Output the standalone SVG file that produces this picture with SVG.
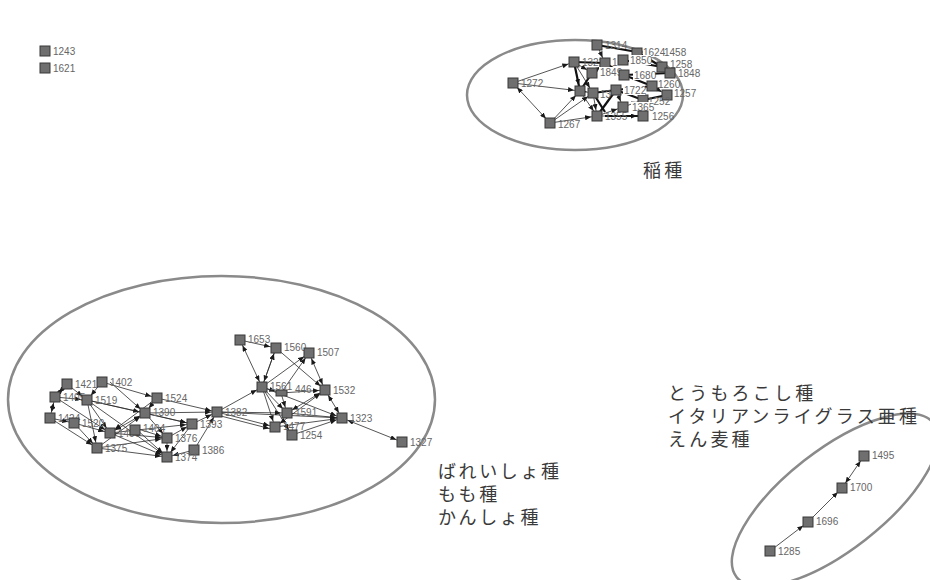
<svg xmlns="http://www.w3.org/2000/svg" width="930" height="580" viewBox="0 0 930 580">
<style>
.n{fill:#6f6f6f;stroke:#383838;stroke-width:1}
.l{font-family:"Liberation Sans",Arial,sans-serif;font-size:10px;fill:#666}
.w{fill:#fff}
.e{stroke:#2a2a2a;stroke-width:0.8;fill:none;marker-end:url(#a)}
.b{marker-start:url(#a)}
.t{stroke:#111;stroke-width:2.2;fill:none}
.c{stroke:#8a8a8a;stroke-width:2.5;fill:none}
.j{font-family:"Noto Sans CJK JP",sans-serif;font-size:18px;fill:#3a3a3a;letter-spacing:3.2px}
</style>
<defs>
<marker id="a" viewBox="0 0 6 5" refX="12" refY="2.5" markerWidth="6" markerHeight="5" markerUnits="userSpaceOnUse" orient="auto-start-reverse"><path d="M0,0 L6,2.5 L0,5 z" fill="#1a1a1a"/></marker>
</defs>
<rect width="930" height="580" fill="#fff"/>
<g id="groups">
<ellipse class="c" cx="575" cy="95" rx="108" ry="55"/>
<ellipse class="c" cx="221.5" cy="399.5" rx="213.5" ry="123.5"/>
<ellipse class="c" cx="835" cy="500" rx="125" ry="50" transform="rotate(-38 835 500)"/>
<text class="j" x="643" y="177">稲種</text>
<text class="j" x="668" y="400">とうもろこし種</text>
<text class="j" x="668" y="423">イタリアンライグラス亜種</text>
<text class="j" x="668" y="446">えん麦種</text>
<text class="j" x="438" y="478" style="letter-spacing:2.6px">ばれいしょ種</text>
<text class="j" x="438" y="501" style="letter-spacing:2.6px">もも種</text>
<text class="j" x="438" y="524" style="letter-spacing:2.6px">かんしょ種</text>
</g>
<g id="connectors">
<line class="e" x1="513" y1="83" x2="574" y2="62"/>
<line class="e" x1="513" y1="83" x2="580" y2="91"/>
<line class="e b" x1="513" y1="83" x2="550" y2="123"/>
<line class="e" x1="550" y1="123" x2="580" y2="91"/>
<line class="e" x1="550" y1="123" x2="593" y2="93"/>
<line class="e" x1="550" y1="123" x2="597" y2="116"/>
<line class="e" x1="574" y1="62" x2="592" y2="73"/>
<line class="e" x1="574" y1="62" x2="580" y2="91"/>
<line class="e" x1="574" y1="62" x2="593" y2="93"/>
<line class="e" x1="580" y1="91" x2="597" y2="116"/>
<line class="e" x1="593" y1="93" x2="597" y2="116"/>
<line class="e" x1="580" y1="91" x2="593" y2="93"/>
<line class="e" x1="597" y1="45" x2="605" y2="63"/>
<line class="e" x1="597" y1="116" x2="623" y2="107"/>
<line class="e" x1="597" y1="116" x2="643" y2="116"/>
<line class="e" x1="592" y1="73" x2="605" y2="63"/>
<line class="e" x1="623" y1="107" x2="643" y2="100"/>
<line class="e" x1="652" y1="86" x2="667" y2="95"/>
<line class="e" x1="670" y1="73" x2="662" y2="67"/>
<line class="e" x1="616" y1="90" x2="623" y2="107"/>
<line class="t" x1="597" y1="45" x2="637" y2="52"/>
<line class="t" x1="574" y1="62" x2="605" y2="63"/>
<line class="t" x1="605" y1="63" x2="624" y2="75"/>
<line class="t" x1="623" y1="60" x2="662" y2="67"/>
<line class="t" x1="624" y1="75" x2="652" y2="86"/>
<line class="t" x1="593" y1="93" x2="616" y2="90"/>
<line class="t" x1="616" y1="90" x2="652" y2="86"/>
<line class="t" x1="616" y1="90" x2="643" y2="100"/>
<line class="t" x1="597" y1="116" x2="616" y2="90"/>
<line class="t" x1="643" y1="100" x2="667" y2="95"/>
<line class="t" x1="580" y1="91" x2="592" y2="73"/>
<line class="t" x1="593" y1="93" x2="605" y2="112"/>
<line class="t" x1="624" y1="75" x2="670" y2="73"/>
<line class="t" x1="637" y1="52" x2="662" y2="67"/>
<line class="t" x1="574" y1="62" x2="580" y2="91"/>
<line class="t" x1="605" y1="116" x2="643" y2="116"/>
<line class="e b" x1="67" y1="384" x2="55" y2="397"/>
<line class="e" x1="67" y1="384" x2="87" y2="400"/>
<line class="e" x1="102" y1="382" x2="157" y2="398"/>
<line class="e" x1="102" y1="382" x2="87" y2="400"/>
<line class="e b" x1="55" y1="397" x2="50" y2="418"/>
<line class="e" x1="55" y1="397" x2="87" y2="400"/>
<line class="e" x1="55" y1="397" x2="110" y2="433"/>
<line class="e" x1="50" y1="418" x2="97" y2="448"/>
<line class="e" x1="50" y1="418" x2="74" y2="423"/>
<line class="e" x1="87" y1="400" x2="110" y2="433"/>
<line class="e" x1="87" y1="400" x2="97" y2="448"/>
<line class="e" x1="87" y1="400" x2="145" y2="413"/>
<line class="e" x1="87" y1="400" x2="192" y2="424"/>
<line class="e" x1="74" y1="423" x2="97" y2="448"/>
<line class="e" x1="74" y1="423" x2="110" y2="433"/>
<line class="e" x1="157" y1="398" x2="217" y2="412"/>
<line class="e" x1="157" y1="398" x2="145" y2="413"/>
<line class="e" x1="110" y1="382" x2="145" y2="413"/>
<line class="e" x1="145" y1="413" x2="217" y2="412"/>
<line class="e b" x1="145" y1="413" x2="110" y2="433"/>
<line class="e" x1="145" y1="413" x2="192" y2="424"/>
<line class="e" x1="145" y1="413" x2="167" y2="438"/>
<line class="e" x1="135" y1="428" x2="167" y2="438"/>
<line class="e" x1="135" y1="428" x2="167" y2="457"/>
<line class="e" x1="110" y1="433" x2="167" y2="438"/>
<line class="e" x1="110" y1="433" x2="167" y2="457"/>
<line class="e" x1="110" y1="433" x2="192" y2="424"/>
<line class="e" x1="97" y1="448" x2="167" y2="457"/>
<line class="e" x1="97" y1="448" x2="145" y2="413"/>
<line class="e" x1="97" y1="448" x2="167" y2="438"/>
<line class="e" x1="192" y1="424" x2="217" y2="412"/>
<line class="e" x1="194" y1="450" x2="217" y2="412"/>
<line class="e" x1="194" y1="450" x2="167" y2="457"/>
<line class="e" x1="167" y1="438" x2="192" y2="424"/>
<line class="e" x1="167" y1="438" x2="167" y2="457"/>
<line class="e" x1="192" y1="424" x2="167" y2="457"/>
<line class="e" x1="157" y1="398" x2="110" y2="433"/>
<line class="e" x1="87" y1="400" x2="167" y2="457"/>
<line class="e" x1="217" y1="412" x2="275" y2="427"/>
<line class="e" x1="217" y1="415" x2="275" y2="430"/>
<line class="e" x1="217" y1="412" x2="262" y2="387"/>
<line class="e" x1="217" y1="412" x2="287" y2="413"/>
<line class="e" x1="217" y1="412" x2="342" y2="418"/>
<line class="e" x1="240" y1="340" x2="276" y2="348"/>
<line class="e b" x1="240" y1="340" x2="262" y2="387"/>
<line class="e b" x1="276" y1="348" x2="262" y2="387"/>
<line class="e" x1="262" y1="387" x2="276" y2="348"/>
<line class="e" x1="276" y1="348" x2="325" y2="390"/>
<line class="e b" x1="309" y1="353" x2="325" y2="390"/>
<line class="e" x1="262" y1="387" x2="309" y2="353"/>
<line class="e" x1="281" y1="393" x2="309" y2="353"/>
<line class="e" x1="262" y1="387" x2="281" y2="393"/>
<line class="e" x1="281" y1="393" x2="325" y2="390"/>
<line class="e" x1="262" y1="387" x2="287" y2="413"/>
<line class="e" x1="262" y1="387" x2="275" y2="427"/>
<line class="e" x1="262" y1="387" x2="292" y2="435"/>
<line class="e b" x1="325" y1="390" x2="342" y2="418"/>
<line class="e" x1="287" y1="413" x2="342" y2="418"/>
<line class="e" x1="275" y1="427" x2="342" y2="418"/>
<line class="e" x1="292" y1="435" x2="342" y2="418"/>
<line class="e b" x1="342" y1="418" x2="402" y2="442"/>
<line class="e b" x1="287" y1="413" x2="325" y2="390"/>
<line class="e b" x1="275" y1="427" x2="325" y2="390"/>
<line class="e" x1="281" y1="393" x2="287" y2="413"/>
<line class="e" x1="262" y1="387" x2="342" y2="418"/>
<line class="e" x1="770" y1="551" x2="808" y2="522"/>
<line class="e" x1="808" y1="522" x2="842" y2="488"/>
<line class="e b" x1="842" y1="488" x2="864" y2="456"/>
</g>
<g id="n1243"><rect class="n" x="40" y="46" width="10" height="10"/><text class="l" x="53" y="55">1243</text></g>
<g id="n1621"><rect class="n" x="40" y="63" width="10" height="10"/><text class="l" x="53" y="72">1621</text></g>
<g id="n1314"><rect class="n" x="592" y="40" width="10" height="10"/><text class="l" x="605" y="49">1314</text></g>
<g id="n1272"><rect class="n" x="508" y="78" width="10" height="10"/><text class="l" x="521" y="87">1272</text></g>
<g id="n1267"><rect class="n" x="545" y="118" width="10" height="10"/><text class="l" x="558" y="128">1267</text></g>
<g id="n1322"><rect class="n" x="569" y="57" width="10" height="10"/><text class="l" x="582" y="66">1322</text></g>
<g id="n1458"><rect class="n" x="651" y="48" width="10" height="8"/><text class="l" x="664" y="56">1458</text></g>
<g id="n1624"><rect class="n" x="632" y="48" width="10" height="8"/><rect class="w" x="643" y="47" width="21" height="10"/><text class="l" x="643" y="56">1624</text></g>
<g id="n1258"><rect class="n" x="657" y="62" width="10" height="10"/><text class="l" x="670" y="68">1258</text></g>
<g id="n1848"><rect class="n" x="665" y="68" width="10" height="10"/><text class="l" x="678" y="77">1848</text></g>
<g id="n1340"><rect class="n" x="600" y="58" width="10" height="10"/><text class="l" x="612" y="66">1</text></g>
<g id="n1850"><rect class="n" x="618" y="55" width="10" height="10"/><rect class="w" x="629" y="55" width="22" height="10"/><text class="l" x="630" y="64">1850</text></g>
<g id="n1849"><rect class="n" x="587" y="68" width="10" height="10"/><rect class="w" x="599" y="67" width="22" height="10"/><text class="l" x="600" y="76">1849</text></g>
<g id="n1680"><rect class="n" x="619" y="70" width="10" height="10"/><rect class="w" x="633" y="70" width="22" height="10"/><text class="l" x="634" y="79">1680</text></g>
<g id="n1260"><rect class="n" x="647" y="81" width="10" height="10"/><text class="l" x="658" y="88">1260</text></g>
<g id="n1257"><rect class="n" x="662" y="90" width="10" height="10"/><text class="l" x="674" y="97">1257</text></g>
<g id="n1n"><rect class="n" x="575" y="86" width="10" height="10"/></g>
<g id="n13"><rect class="n" x="588" y="88" width="10" height="10"/><text class="l" x="600" y="98">13</text></g>
<g id="n1252"><rect class="n" x="638" y="95" width="10" height="10"/><text class="l" x="648" y="105">1252</text></g>
<g id="n1722"><rect class="n" x="611" y="85" width="10" height="10"/><rect class="w" x="623" y="85" width="22" height="10"/><text class="l" x="624" y="94">1722</text></g>
<g id="n1355"><rect class="n" x="592" y="111" width="10" height="10"/><text class="l" x="605" y="120">1355</text></g>
<g id="n1365"><rect class="n" x="618" y="102" width="10" height="10"/><rect class="w" x="631" y="102" width="22" height="10"/><text class="l" x="632" y="111">1365</text></g>
<g id="n1256"><rect class="n" x="638" y="111" width="10" height="10"/><text class="l" x="652" y="120">1256</text></g>
<g id="n1421"><rect class="n" x="62" y="379" width="10" height="10"/><text class="l" x="75" y="388">1421</text></g>
<g id="n1402"><rect class="n" x="97" y="377" width="10" height="10"/><text class="l" x="110" y="386">1402</text></g>
<g id="n1405"><rect class="n" x="50" y="392" width="10" height="10"/><text class="l" x="63" y="401">1405</text></g>
<g id="n1519"><rect class="n" x="82" y="395" width="10" height="10"/><text class="l" x="95" y="404">1519</text></g>
<g id="n1424"><rect class="n" x="45" y="413" width="10" height="10"/><text class="l" x="58" y="422">1424</text></g>
<g id="n1520"><rect class="n" x="69" y="418" width="10" height="10"/><text class="l" x="82" y="427">1520</text></g>
<g id="n1524"><rect class="n" x="152" y="393" width="10" height="10"/><text class="l" x="165" y="402">1524</text></g>
<g id="n1390"><rect class="n" x="140" y="408" width="10" height="10"/><text class="l" x="153" y="416">1390</text></g>
<g id="n1406"><rect class="n" x="105" y="428" width="10" height="10"/><text class="l" x="118" y="437">1406</text></g>
<g id="n1404"><rect class="n" x="130" y="425" width="10" height="10"/><text class="l" x="143" y="432">1404</text></g>
<g id="n1393"><rect class="n" x="187" y="419" width="10" height="10"/><text class="l" x="200" y="428">1393</text></g>
<g id="n1376"><rect class="n" x="162" y="433" width="10" height="10"/><text class="l" x="175" y="442">1376</text></g>
<g id="n1375"><rect class="n" x="92" y="443" width="10" height="10"/><text class="l" x="105" y="452">1375</text></g>
<g id="n1386"><rect class="n" x="189" y="445" width="10" height="10"/><text class="l" x="202" y="454">1386</text></g>
<g id="n1374"><rect class="n" x="162" y="452" width="10" height="10"/><text class="l" x="175" y="461">1374</text></g>
<g id="n1382"><rect class="n" x="212" y="407" width="10" height="10"/><text class="l" x="225" y="416">1382</text></g>
<g id="n1653"><rect class="n" x="235" y="335" width="10" height="10"/><text class="l" x="248" y="343">1653</text></g>
<g id="n1560"><rect class="n" x="271" y="343" width="10" height="10"/><text class="l" x="284" y="351">1560</text></g>
<g id="n1507"><rect class="n" x="304" y="348" width="10" height="10"/><text class="l" x="317" y="356">1507</text></g>
<g id="n1561"><rect class="n" x="257" y="382" width="10" height="10"/><text class="l" x="270" y="390">1561</text></g>
<g id="n446"><rect class="n" x="276" y="390" width="11" height="6"/><text class="l" x="295" y="393">446</text></g>
<g id="n1532"><rect class="n" x="320" y="385" width="10" height="10"/><text class="l" x="333" y="394">1532</text></g>
<g id="n1591"><rect class="n" x="282" y="408" width="10" height="10"/><text class="l" x="295" y="416">1591</text></g>
<g id="n1323"><rect class="n" x="337" y="413" width="10" height="10"/><text class="l" x="350" y="422">1323</text></g>
<g id="n1477"><rect class="n" x="270" y="422" width="10" height="10"/><text class="l" x="283" y="430">1477</text></g>
<g id="n1254"><rect class="n" x="287" y="430" width="10" height="10"/><text class="l" x="300" y="439">1254</text></g>
<g id="n1327"><rect class="n" x="397" y="437" width="10" height="10"/><text class="l" x="410" y="446">1327</text></g>
<g id="n1495"><rect class="n" x="859" y="451" width="10" height="10"/><text class="l" x="872" y="459">1495</text></g>
<g id="n1700"><rect class="n" x="837" y="483" width="10" height="10"/><text class="l" x="850" y="491">1700</text></g>
<g id="n1696"><rect class="n" x="803" y="517" width="10" height="10"/><text class="l" x="816" y="525">1696</text></g>
<g id="n1285"><rect class="n" x="765" y="546" width="10" height="10"/><text class="l" x="778" y="555">1285</text></g>
</svg>
